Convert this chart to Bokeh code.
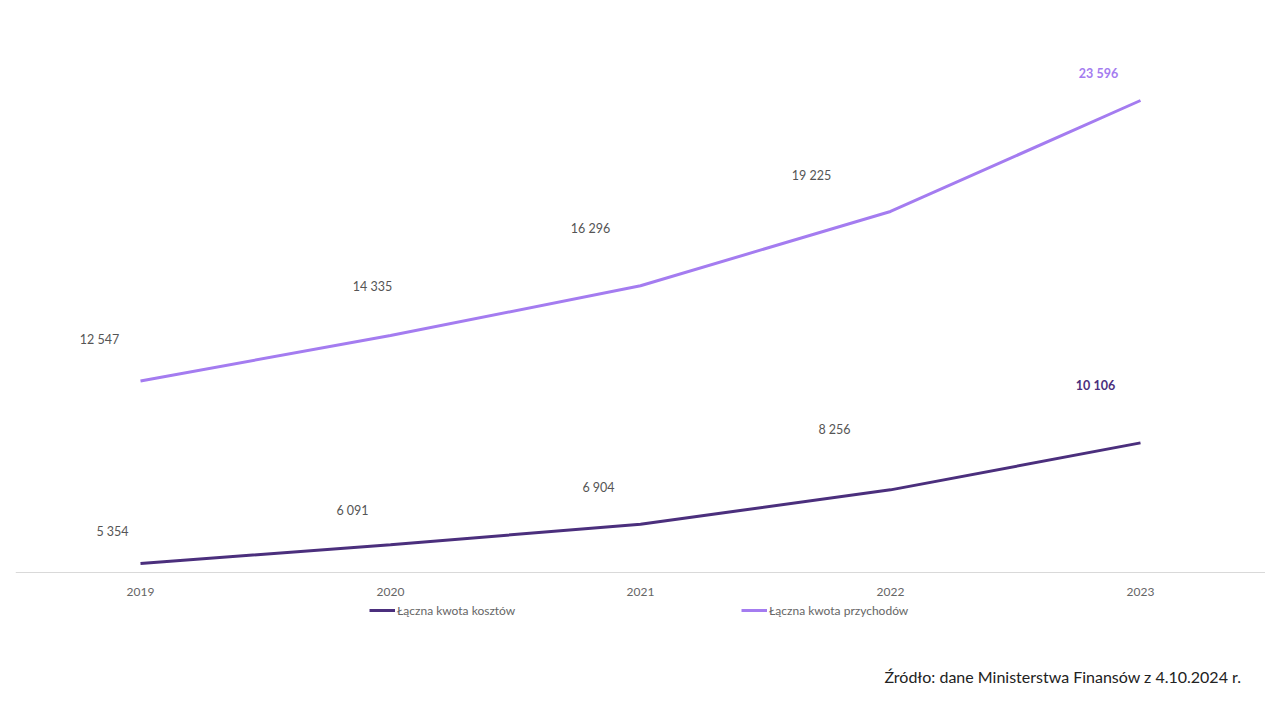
from bokeh.plotting import figure
from bokeh.models import ColumnDataSource, Legend, LegendItem, Range1d, Div, Spacer
from bokeh.layouts import column, row
from bokeh.embed import file_html
from bokeh.resources import INLINE
from bokeh.core.properties import value

years = ["2019", "2020", "2021", "2022", "2023"]
koszty = [5354, 6091, 6904, 8256, 10106]
przychody = [12547, 14335, 16296, 19225, 23596]

# label placement (screen px offsets, styling only)
koszty_dx = [-28, -38, -42, -56, -45]
koszty_dy = [-32, -34, -37, -60, -57]
przych_dx = [-41, -18, -50, -79, -42]
przych_dy = [-41, -49, -57, -36, -27]

DARK = "#4B2F7D"
LIGHT = "#A47CF0"
GRAY = "#555555"
FONT = "Lato"

def fmt(v):
    return f"{v:,}".replace(",", " ")

p = figure(x_range=years, y_range=Range1d(1769, 27063), width=1250, height=642,
           output_backend="svg", toolbar_location=None, y_axis_location=None,
           min_border=0)
p.outline_line_color = None
p.xgrid.grid_line_color = None
p.ygrid.grid_line_color = None
p.xaxis.fixed_location = 5000
p.xaxis.axis_line_color = "#d9d9d9"
p.xaxis.axis_line_width = 1
p.xaxis.major_tick_line_color = None
p.xaxis.minor_tick_line_color = None
p.xaxis.major_label_text_color = "#666666"
p.xaxis.major_label_text_font = FONT
p.xaxis.major_label_text_font_size = "12px"
p.xaxis.major_label_standoff = 10

r1 = p.line(years, koszty, line_color=DARK, line_width=3)
r2 = p.line(years, przychody, line_color=LIGHT, line_width=3)

def labels(vals, dx, dy, color):
    cols = [GRAY] * (len(vals) - 1) + [color]
    styles = ["normal"] * (len(vals) - 1) + ["bold"]
    src = ColumnDataSource(dict(x=years, y=vals, t=[fmt(v) for v in vals],
                                dx=dx, dy=dy, c=cols, s=styles))
    p.text(x="x", y="y", text="t", x_offset="dx", y_offset="dy", text_color="c",
           text_font_style="s", source=src, text_font=value(FONT),
           text_font_size="12.5px", text_align="center", text_baseline="middle")

labels(koszty, koszty_dx, koszty_dy, DARK)
labels(przychody, przych_dx, przych_dy, LIGHT)

legend = Legend(items=[LegendItem(label="Łączna kwota kosztów", renderers=[r1]),
                       LegendItem(label="Łączna kwota przychodów", renderers=[r2])],
                orientation="horizontal", location=(354, 36), spacing=0,
                glyph_width=26, glyph_height=16, label_width=344, label_standoff=2,
                label_text_font=FONT, label_height=16,
                label_text_font_size="12px", label_text_color="#666666",
                border_line_color=None, background_fill_alpha=0, padding=0, margin=0)
p.add_layout(legend, "center")

src = Div(text="Źródło: dane Ministerstwa Finansów z 4.10.2024 r.", width=1236,
          styles={"text-align": "right", "font-family": FONT, "font-size": "16px",
                  "color": "#222222", "padding-top": "7px"})

layout = column(Spacer(height=12), row(Spacer(width=15), p, spacing=0), src, spacing=0)
open("out.html", "w").write(file_html(layout, INLINE))
